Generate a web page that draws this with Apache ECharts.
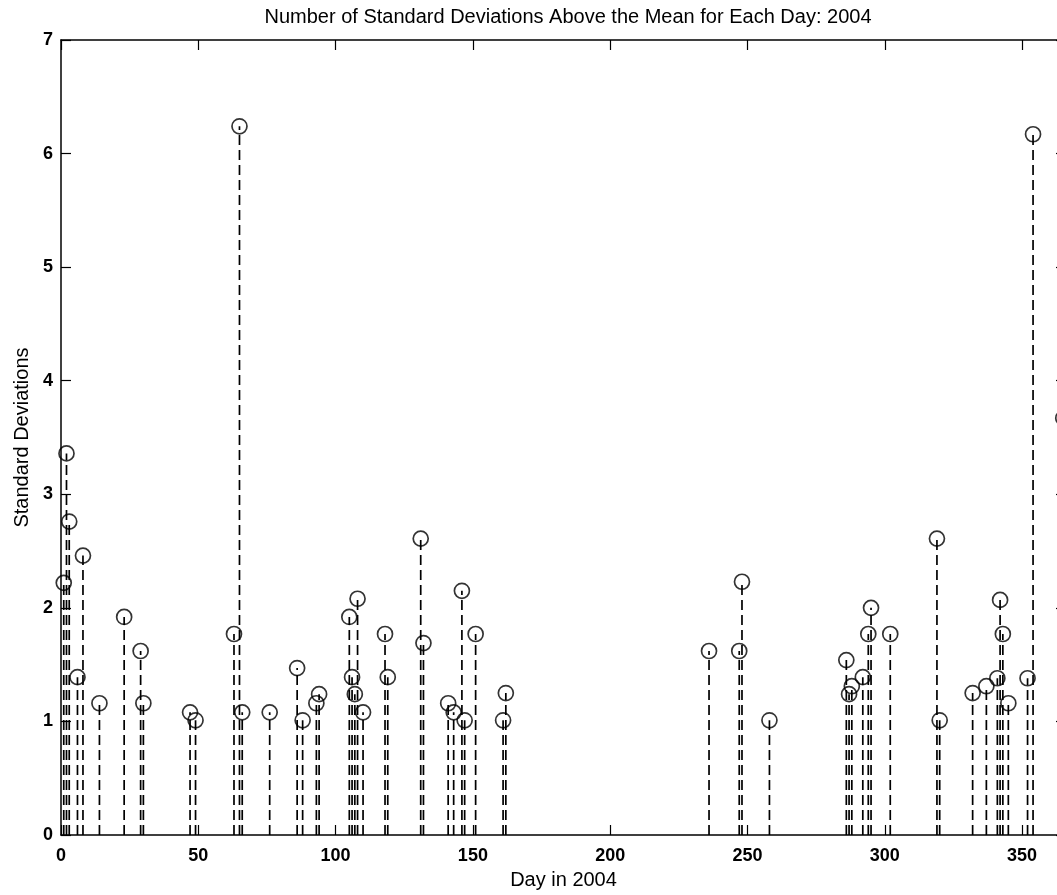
<!DOCTYPE html>
<html>
<head>
<meta charset="utf-8">
<script src="https://cdn.jsdelivr.net/npm/echarts@6/dist/echarts.min.js"></script>
<style>
  html, body { margin: 0; padding: 0; background: #fff; overflow: hidden; }
  /* 原图右侧被裁切，画布比窗口略宽 */
  #main { width: 1075px; height: 895px; }
</style>
</head>
<body>
<div id="main"></div>
<script>
// 日期（2004年第几天）
const days = [1, 2, 3, 6, 8, 14, 23, 29, 30, 47, 49, 63, 65, 66, 76, 86, 88, 93, 94,
  105, 106, 107, 108, 110, 118, 119, 131, 132, 141, 143, 146, 147, 151, 161, 162,
  236, 247, 248, 258, 286, 287, 288, 292, 294, 295, 302, 319, 320, 332, 337,
  341, 342, 343, 345, 352, 354, 365]
// 高于均值的标准差个数
const sdValues = [2.22, 3.36, 2.76, 1.39, 2.46, 1.16, 1.92, 1.62, 1.16, 1.08, 1.01, 1.77, 6.24, 1.08, 1.08, 1.47, 1.01, 1.16, 1.24,
  1.92, 1.39, 1.24, 2.08, 1.08, 1.77, 1.39, 2.61, 1.69, 1.16, 1.08, 2.15, 1.01, 1.77, 1.01, 1.25,
  1.62, 1.62, 2.23, 1.01, 1.54, 1.24, 1.31, 1.39, 1.77, 2.00, 1.77, 2.61, 1.01, 1.25, 1.31,
  1.38, 2.07, 1.77, 1.16, 1.38, 6.17, 3.67]
const xTicks = [0, 50, 100, 150, 200, 250, 300, 350]
const yTicks = [0, 1, 2, 3, 4, 5, 6, 7]

const points = days.map((d, i) => [d, sdValues[i]])
const font = 'Liberation Sans, Arial, Helvetica, sans-serif'

const boxAxis = (extra) => Object.assign({
  type: 'value',
  axisLine: { show: true, onZero: false, lineStyle: { color: '#000', width: 1.5 } },
  axisTick: { show: true, inside: true, length: 10, lineStyle: { color: '#000', width: 1.2 } },
  splitLine: { show: false }
}, extra)

const myChart = echarts.init(document.getElementById('main'))
myChart.setOption({
  backgroundColor: '#fff',
  animation: false,
  title: {
    text: 'Number of Standard Deviations Above the Mean for Each Day: 2004',
    left: 563,
    top: 2,
    textAlign: 'center',
    textStyle: { fontFamily: font, fontSize: 20, fontWeight: 'normal', color: '#000' }
  },
  grid: { left: 61, top: 40, width: 1005, height: 795, containLabel: false },
  xAxis: [
    boxAxis({
      position: 'bottom',
      min: xTicks[0],
      max: 366,
      interval: 50,
      name: 'Day in 2004',
      nameLocation: 'middle',
      nameGap: 35,
      nameTextStyle: { fontFamily: font, fontSize: 20, color: '#000' },
      axisLabel: {
        showMaxLabel: false,
        margin: 12,
        fontFamily: font, fontSize: 18, fontWeight: 'bold', color: '#000',
        formatter: v => (xTicks.includes(v) ? String(v) : '')
      }
    }),
    boxAxis({ position: 'top', min: xTicks[0], max: 366, interval: 50, axisLabel: { show: false } })
  ],
  yAxis: [
    boxAxis({
      position: 'left',
      min: yTicks[0],
      max: yTicks[yTicks.length - 1],
      interval: 1,
      name: 'Standard Deviations',
      nameLocation: 'middle',
      nameGap: 29,
      nameTextStyle: { fontFamily: font, fontSize: 20, color: '#000' },
      axisLabel: { margin: 8, fontFamily: font, fontSize: 18, fontWeight: 'bold', color: '#000' }
    }),
    boxAxis({ position: 'right', min: yTicks[0], max: yTicks[yTicks.length - 1], interval: 1, axisLabel: { show: false } })
  ],
  series: [
    {
      // 虚线茎
      type: 'custom',
      xAxisIndex: 0,
      yAxisIndex: 0,
      data: points,
      renderItem: (params, api) => {
        const p0 = api.coord([api.value(0), 0])
        const p1 = api.coord([api.value(0), api.value(1)])
        return {
          type: 'line',
          shape: { x1: p0[0], y1: p0[1], x2: p1[0], y2: p1[1] },
          style: { stroke: '#000', lineWidth: 1.7, lineDash: [10, 5] }
        }
      }
    },
    {
      // 圆圈标记
      type: 'scatter',
      xAxisIndex: 0,
      yAxisIndex: 0,
      data: points,
      symbol: 'circle',
      symbolSize: 15,
      itemStyle: { color: 'rgba(0,0,0,0)', borderColor: '#000', borderWidth: 1.7 }
    }
  ]
})
</script>
</body>
</html>
